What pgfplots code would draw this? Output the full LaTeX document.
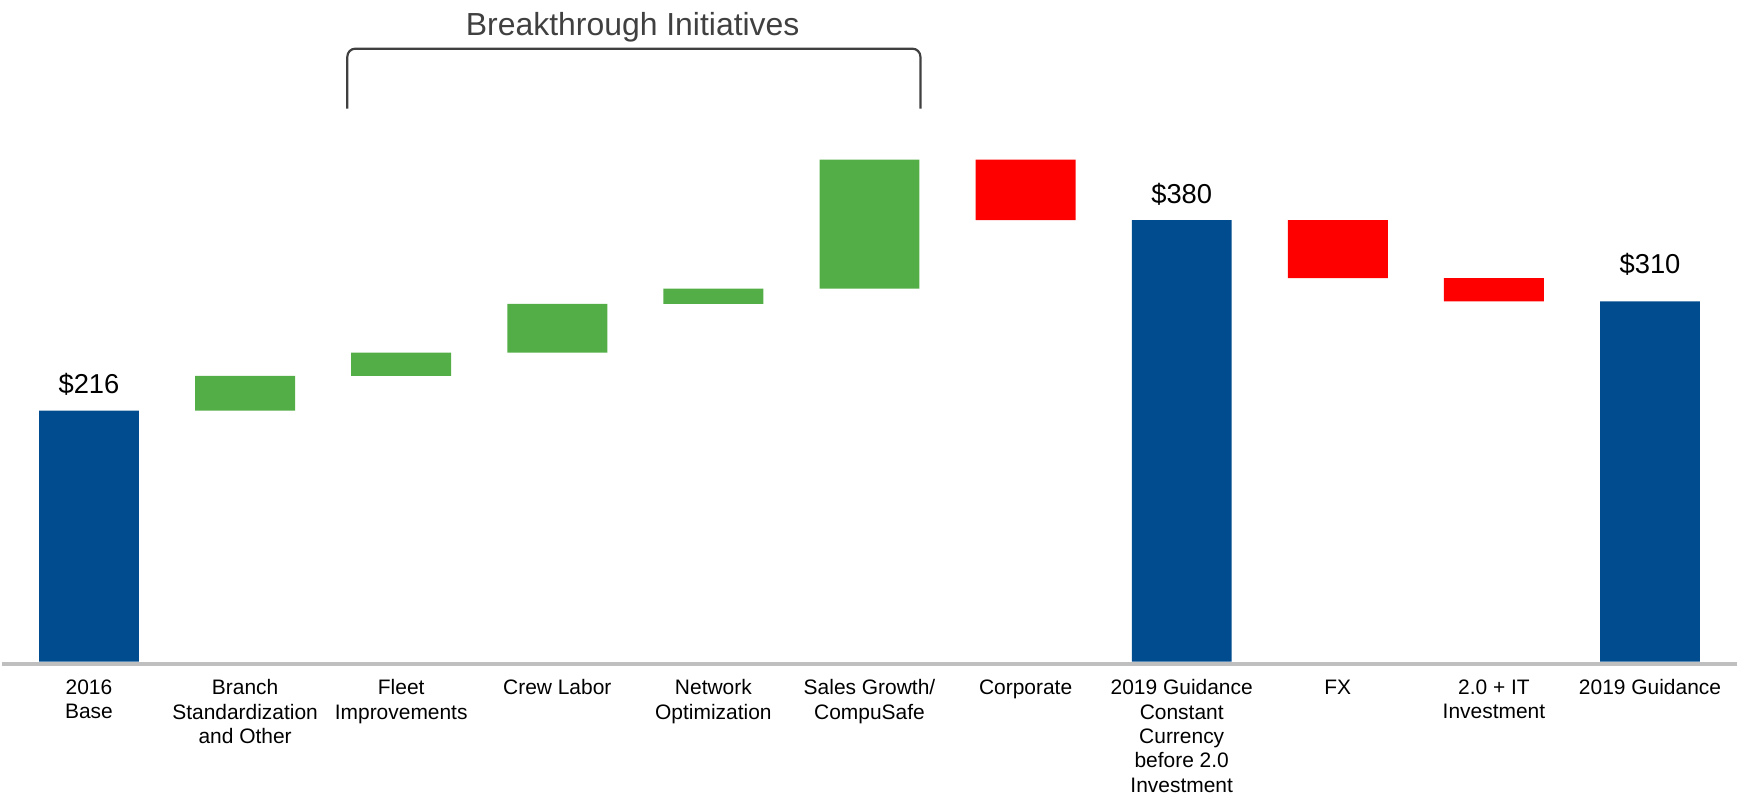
\documentclass[border=0pt]{standalone}
\usepackage{fontspec}
\setmainfont{Liberation Sans}
\usepackage{pgfplots}
\pgfplotsset{compat=1.18}
\definecolor{barblue}{RGB}{0,76,143}
\definecolor{bargreen}{RGB}{84,174,71}
\definecolor{barred}{RGB}{255,0,0}
\definecolor{axgray}{RGB}{191,191,191}
\definecolor{txtgray}{RGB}{64,64,64}
\begin{document}
\begin{tikzpicture}
\begin{axis}[
  scale only axis,
  width=869.5pt, height=332.7pt,
  xmin=-0.556, xmax=10.556,
  ymin=-1.9, ymax=569.5,
  ybar stacked, bar width=0.64,
  axis x line*=bottom, axis y line=none,
  x axis line style={draw=axgray, line width=2.2pt},
  xtick={0,...,10},
  xticklabels={{2016\\Base},{Branch\\Standardization\\and Other},{Fleet\\Improvements},{Crew Labor},{Network\\Optimization},{Sales Growth/\\CompuSafe},{Corporate},{2019 Guidance\\Constant\\Currency\\before 2.0\\Investment},{FX},{2.0 + IT\\Investment},{2019 Guidance}},
  xtick style={draw=none},
  major tick length=0pt,
  xticklabel style={align=center, font=\fontsize{10.5}{12.2}\selectfont, yshift=-4.5pt},
  clip=false,
]
% invisible base
\addplot[draw=none, fill=none] coordinates {(0,0) (1,216) (2,246) (3,266) (4,308) (5,321) (6,380) (7,0) (8,330) (9,310) (10,0)};
% totals
\addplot[draw=none, fill=barblue] coordinates {(0,216) (1,0) (2,0) (3,0) (4,0) (5,0) (6,0) (7,380) (8,0) (9,0) (10,310)};
% increases
\addplot[draw=none, fill=bargreen] coordinates {(0,0) (1,30) (2,20) (3,42) (4,13) (5,111) (6,0) (7,0) (8,0) (9,0) (10,0)};
% decreases
\addplot[draw=none, fill=barred] coordinates {(0,0) (1,0) (2,0) (3,0) (4,0) (5,0) (6,52) (7,0) (8,50) (9,20) (10,0)};

\node[anchor=base, font=\fontsize{13.7}{16}\selectfont, yshift=8.4pt] at (axis cs:0,216) {\$216};
\node[anchor=base, font=\fontsize{13.7}{16}\selectfont, yshift=8.4pt] at (axis cs:7,380) {\$380};
\node[anchor=base, font=\fontsize{13.7}{16}\selectfont, yshift=14pt] at (axis cs:10,310) {\$310};

\draw[txtgray, line width=1.1pt, rounded corners=4pt] (axis cs:1.655,476) -- (axis cs:1.655,527.6) -- (axis cs:5.326,527.6) -- (axis cs:5.326,476);
\node[anchor=base, txtgray, font=\fontsize{16}{19}\selectfont] at (axis cs:3.483,539) {Breakthrough Initiatives};
\end{axis}
\path (current axis.south west) ++(0,-68pt) coordinate (bl);
\path (bl) rectangle (current axis.north east);
\end{tikzpicture}
\end{document}
